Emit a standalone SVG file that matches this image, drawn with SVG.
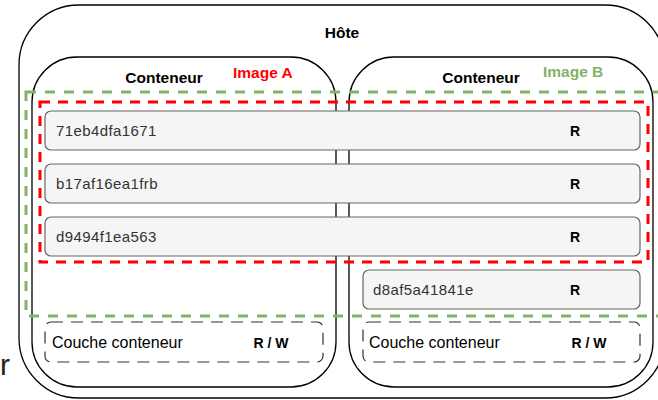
<svg xmlns="http://www.w3.org/2000/svg" width="658" height="400" viewBox="0 0 658 400">
<style>
text{font-family:"Liberation Sans",Arial,sans-serif}
.frame{fill:none;stroke:#000;stroke-width:1.3}
.layer{fill:#f5f5f5;stroke:#666;stroke-width:1.2}
.rw{fill:none;stroke:#333;stroke-width:1.2;stroke-dasharray:12 8}
.id{font-size:15px;fill:#333;letter-spacing:0.4px}
.r{font-size:14px;font-weight:bold;fill:#000;text-anchor:middle}
.title{font-size:15.5px;font-weight:bold;fill:#000;text-anchor:middle}
.couche{font-size:16px;fill:#000}
</style>
<rect width="658" height="400" fill="#fff"/>
<text x="0" y="375" style="font-size:30px;fill:#222">r</text>
<g id="hote">
<rect class="frame" x="19" y="5" width="646" height="393" rx="60"/>
<text class="title" x="342" y="38">Hôte</text>
</g>
<g id="conteneurA">
<rect class="frame" x="32" y="57" width="304" height="330" rx="45"/>
<text class="title" x="164" y="83">Conteneur</text>
</g>
<g id="conteneurB">
<rect class="frame" x="349" y="57" width="304" height="330" rx="45"/>
<text class="title" x="481" y="83">Conteneur</text>
</g>
<g id="layer1">
<rect class="layer" x="45" y="111" width="595" height="39" rx="6"/>
<text class="id" x="56" y="136">71eb4dfa1671</text>
<text class="r" x="575" y="136">R</text>
</g>
<g id="layer2">
<rect class="layer" x="45" y="164" width="595" height="39" rx="6"/>
<text class="id" x="56" y="189">b17af16ea1frb</text>
<text class="r" x="575" y="189">R</text>
</g>
<g id="layer3">
<rect class="layer" x="45" y="217" width="595" height="39" rx="6"/>
<text class="id" x="56" y="242">d9494f1ea563</text>
<text class="r" x="575" y="242">R</text>
</g>
<g id="layer4">
<rect class="layer" x="363" y="270" width="277" height="39" rx="6"/>
<text class="id" x="373" y="295">d8af5a41841e</text>
<text class="r" x="575" y="295">R</text>
</g>
<g id="imageB">
<rect x="26" y="92" width="645" height="224" fill="none" stroke="#82b366" stroke-width="3" stroke-dasharray="10 9"/>
<text x="543" y="77" style="font-size:15.5px;font-weight:bold;fill:#82b366">Image B</text>
</g>
<g id="imageA">
<rect x="40" y="102" width="608" height="160" fill="none" stroke="#ff0000" stroke-width="3" stroke-dasharray="10 8"/>
<text x="233" y="78" style="font-size:15.5px;font-weight:bold;fill:#ff0000">Image A</text>
</g>
<g id="coucheA">
<rect class="rw" x="45" y="322" width="278" height="40" rx="6"/>
<text class="couche" x="52" y="348">Couche conteneur</text>
<text class="r" x="271" y="348">R / W</text>
</g>
<g id="coucheB">
<rect class="rw" x="363" y="322" width="277" height="40" rx="6"/>
<text class="couche" x="369" y="348">Couche conteneur</text>
<text class="r" x="589" y="348">R / W</text>
</g>
<g id="connectors"></g>
</svg>
